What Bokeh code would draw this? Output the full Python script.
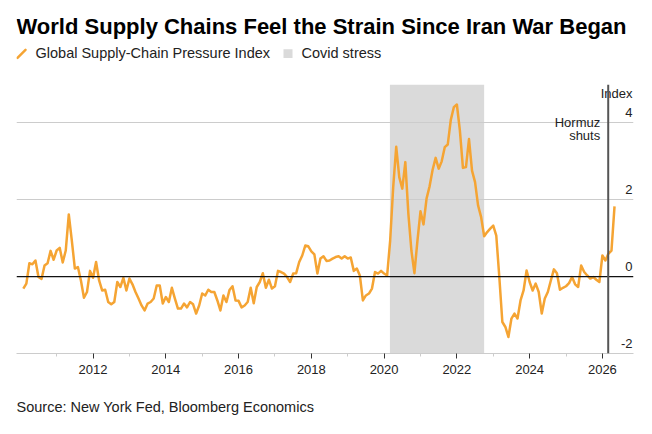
import numpy as np
from bokeh.plotting import figure
from bokeh.layouts import column
from bokeh.models import Range1d, FixedTicker, Grid, Span, BoxAnnotation, ColumnDataSource
from bokeh.core.properties import value
from bokeh.embed import file_html
from bokeh.resources import INLINE

# ---------------- data ----------------
START_YEAR = 2010  # monthly series, Jan 2010 onwards
gscpi_2010 = [-0.31, -0.18, 0.35, 0.32, 0.42, -0.01, -0.06, 0.29, 0.35, 0.67, 0.44, 0.68]
gscpi_2011 = [0.75, 0.37, 0.68, 1.62, 0.94, 0.21, 0.25, -0.10, -0.55, -0.40, 0.15, -0.03]
gscpi_2012 = [0.38, -0.10, -0.36, -0.34, -0.66, -0.72, -0.66, -0.14, -0.27, -0.03, -0.36, -0.05]
gscpi_2013 = [-0.20, -0.40, -0.57, -0.75, -0.88, -0.70, -0.66, -0.57, -0.23, -0.23, -0.70, -0.53]
gscpi_2014 = [-0.66, -0.29, -0.57, -0.83, -0.83, -0.70, -0.80, -0.66, -0.72, -0.96, -0.75, -0.44]
gscpi_2015 = [-0.49, -0.34, -0.40, -0.40, -0.62, -0.88, -0.49, -0.66, -0.35, -0.25, -0.62, -0.63]
gscpi_2016 = [-0.80, -0.75, -0.66, -0.29, -0.69, -0.27, -0.14, 0.09, -0.29, -0.08, -0.31, -0.25]
gscpi_2017 = [0.15, 0.12, 0.08, -0.01, -0.14, 0.08, 0.09, 0.38, 0.55, 0.81, 0.79, 0.66]
gscpi_2018 = [0.58, 0.08, 0.47, 0.53, 0.41, 0.42, 0.47, 0.51, 0.53, 0.47, 0.53, 0.47]
gscpi_2019 = [0.50, 0.15, 0.21, 0.03, -0.62, -0.49, -0.44, -0.31, 0.12, 0.08, 0.15, 0.08]
gscpi_2020 = [0.03, 0.94, 2.33, 3.38, 2.59, 2.29, 2.98, 1.64, 0.68, 0.09, 0.94, 1.70]
gscpi_2021 = [1.36, 2.03, 2.35, 2.78, 3.09, 2.81, 3.00, 3.37, 3.44, 4.08, 4.41, 4.48]
gscpi_2022 = [3.80, 2.83, 2.85, 3.58, 2.76, 2.46, 1.85, 1.55, 1.05, 1.16, 1.25, 1.33]
gscpi_2023 = [1.07, -0.01, -1.18, -1.31, -1.57, -1.09, -0.96, -1.09, -0.62, -0.36, 0.16, -0.14]
gscpi_2024 = [-0.36, -0.18, -0.40, -0.96, -0.57, -0.40, -0.10, 0.19, 0.09, -0.34, -0.29, -0.25]
gscpi_2025 = [-0.17, -0.01, -0.20, -0.27, 0.29, 0.12, 0.03, -0.05, -0.01, -0.08, -0.14, 0.55]
gscpi_2026 = [0.42, 0.60, 0.68, 1.83]

covid_start = 2020.16
covid_end = 2022.75
hormuz_date = 2026.16

x_ticks = [2012, 2014, 2016, 2018, 2020, 2022, 2024, 2026]
x_minor_ticks = [2011, 2013, 2015, 2017, 2019, 2021, 2023, 2025]
y_ticks = [-2, 0, 2, 4]
y_labels = ["-2", "0", "2", "4"]

title_text = "World Supply Chains Feel the Strain Since Iran War Began"
legend_line = "Global Supply-Chain Pressure Index"
legend_band = "Covid stress"
source_text = "Source: New York Fed, Bloomberg Economics"
event_lines = ["Hormuz", "shuts"]
y_unit = "Index"

# ---------------- build ----------------
values = (gscpi_2010 + gscpi_2011 + gscpi_2012 + gscpi_2013 + gscpi_2014 + gscpi_2015 +
          gscpi_2016 + gscpi_2017 + gscpi_2018 + gscpi_2019 + gscpi_2020 + gscpi_2021 +
          gscpi_2022 + gscpi_2023 + gscpi_2024 + gscpi_2025 + gscpi_2026)
dates = START_YEAR + (np.arange(len(values)) + 1) / 12.0

ORANGE = "#f5a433"
BAND = "#dadada"
TXT = "#222222"
FONT = "Liberation Sans"
W = 644
LEFT, RIGHT = 16, 11


def blank(height):
    f = figure(width=W, height=height, output_backend="svg", toolbar_location=None,
               x_range=Range1d(LEFT, W - RIGHT), y_range=Range1d(height, 0),
               x_axis_location=None, y_axis_location=None, title_location=None,
               min_border_left=LEFT, min_border_right=RIGHT,
               min_border_top=0, min_border_bottom=0)
    f.outline_line_color = None
    f.grid.visible = False
    return f


# header: title + legend (coordinates are page pixels)
head = blank(84)
head.text(x=[16], y=[25.5], text=[title_text], text_font=value(FONT), text_font_size="22px",
          text_font_style="bold", text_color="#000000", text_baseline="middle")
head.segment(x0=[17], y0=[57.3], x1=[25], y1=[49.3], line_color=ORANGE, line_width=2.5,
             line_cap="round")
head.quad(left=[283], right=[292], top=[48.8], bottom=[57.5], fill_color=BAND,
          line_color=None)
head.text(x=[35, 301], y=[52, 52], text=[legend_line, legend_band],
          text_font=value(FONT), text_font_size="14.5px", text_color=TXT,
          text_baseline="middle")

# main chart
X0, X1 = 2009.896, 2026.855
p = figure(width=W, height=299, output_backend="svg", toolbar_location=None,
           x_range=Range1d(X0, X1), y_range=Range1d(-2, 5),
           y_axis_location=None, title_location=None,
           min_border_left=LEFT, min_border_right=RIGHT,
           min_border_top=0, min_border_bottom=30)
p.outline_line_color = None
p.xgrid.visible = False
p.ygrid.visible = False

p.add_layout(BoxAnnotation(left=covid_start, right=covid_end, fill_color=BAND,
                           fill_alpha=1.0, line_color=None, level="underlay"))
p.add_layout(Grid(dimension=1, ticker=FixedTicker(ticks=[2, 4]),
                  grid_line_color="#cccccc", grid_line_width=1))
p.add_layout(Span(location=0, dimension="width", line_color="#111111", line_width=1.3))

ax = p.xaxis[0]
ax.ticker = FixedTicker(ticks=x_ticks, minor_ticks=x_minor_ticks)
ax.major_label_overrides = {t: str(t) for t in x_ticks}
ax.axis_line_color = "#cccccc"
ax.major_tick_line_color = "#333333"
ax.major_tick_out = 5
ax.major_tick_in = 0
ax.minor_tick_line_color = "#cccccc"
ax.minor_tick_out = 3
ax.minor_tick_in = 0
ax.major_label_standoff = 6
ax.major_label_text_font = FONT
ax.major_label_text_font_size = "13px"
ax.major_label_text_color = TXT

p.line(dates, values, line_color=ORANGE, line_width=2.5, line_join="round")

p.add_layout(Span(location=hormuz_date, dimension="height", line_color="#555555",
                  line_width=2))

ysrc = ColumnDataSource(dict(x=[X1] * len(y_ticks), y=y_ticks, t=y_labels))
p.text(x="x", y="y", text="t", source=ysrc, text_align="right", text_baseline="bottom",
       y_offset=-6, x_offset=-1, text_font=value(FONT), text_font_size="13px",
       text_color=TXT)
p.text(x=[X1], y=[4], text=[y_unit], text_align="right", text_baseline="bottom",
       y_offset=-22, x_offset=-1, text_font=value(FONT), text_font_size="13px",
       text_color=TXT)
p.text(x=[hormuz_date, hormuz_date], y=[4, 4], text=event_lines, text_align="right",
       text_baseline="middle", x_offset=-8, y_offset=[0, 13], text_font=value(FONT),
       text_font_size="13px", text_color=TXT)

# footer: source
foot = blank(43)
foot.text(x=[16], y=[23], text=[source_text], text_font=value(FONT),
          text_font_size="14.5px", text_color=TXT, text_baseline="middle")

layout = column(head, p, foot, spacing=0)
open("out.html", "w").write(file_html(layout, INLINE))
